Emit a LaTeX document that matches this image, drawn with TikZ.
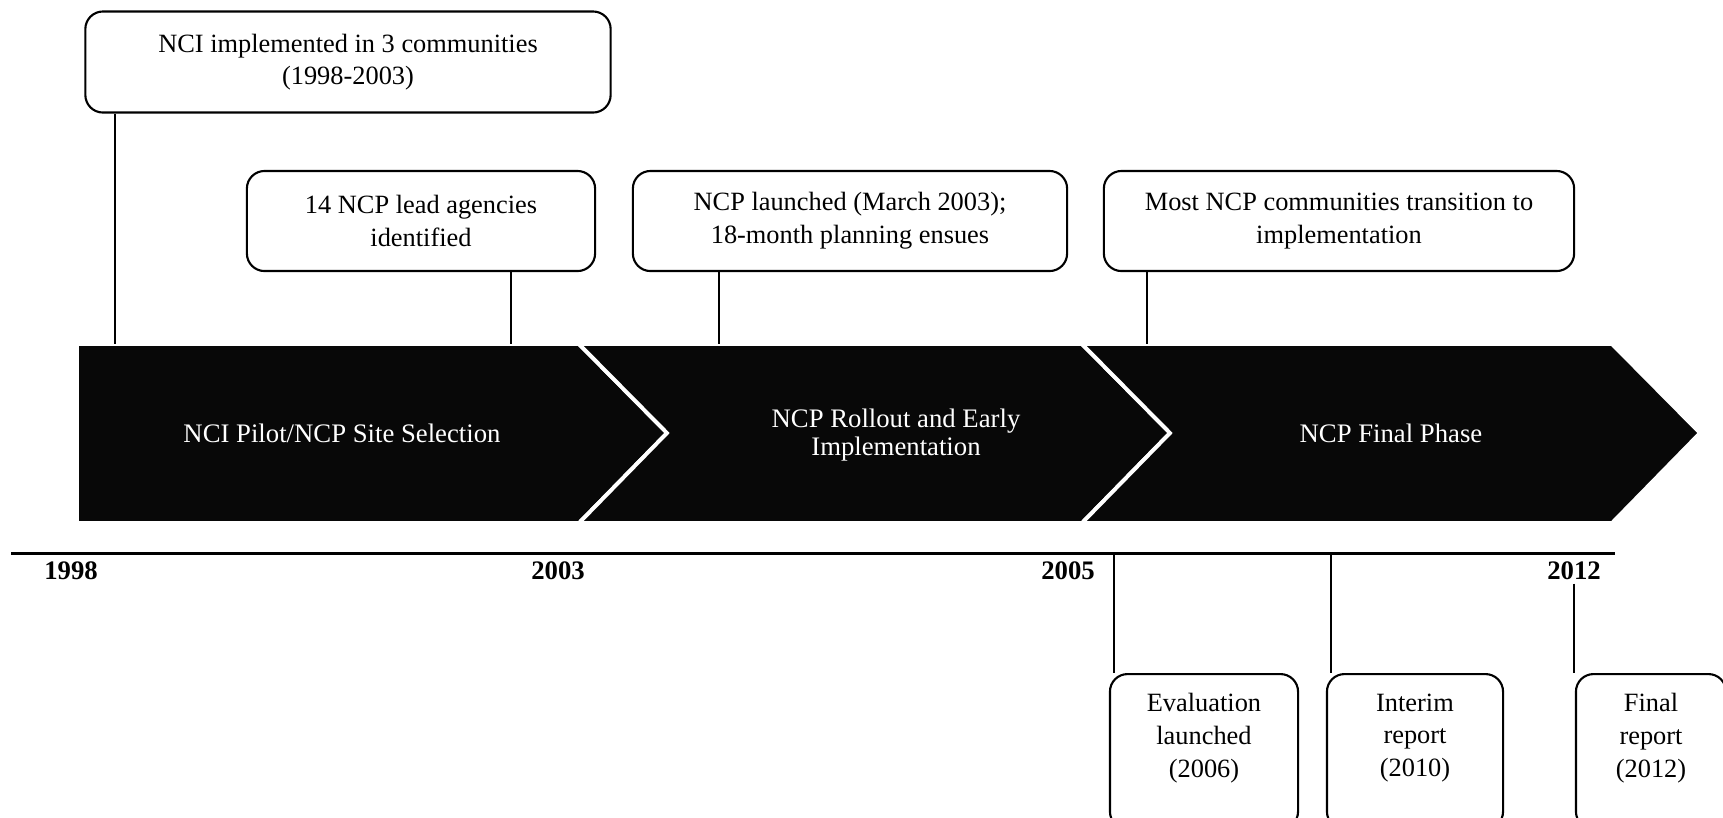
\documentclass[tikz,border=0pt]{standalone}
\usepackage{fontspec}
\setmainfont{Liberation Serif}
\usepackage{tikz}
\usetikzlibrary{positioning,calc}

\begin{document}
\begin{tikzpicture}[
    x=0.01cm, y=-0.01cm,
    event/.style={rectangle, draw=black, line width=0.6pt, rounded corners=5pt, align=center, inner sep=0pt, font=\fontsize{7.5}{9.3}\selectfont},
    phase/.style={fill=black!97, draw=white, line width=1.1pt},
    phasetext/.style={text=white, align=center, font=\fontsize{7.6}{7.8}\selectfont},
    year/.style={font=\bfseries\fontsize{7.6}{9}\selectfont},
    conn/.style={draw=black, line width=0.45pt},
    axis/.style={draw=black, line width=0.85pt}
]
    \useasboundingbox (0,0) rectangle (1723,817);

    % Phases
    \path[phase] (77,344) -- (579,344) -- (667,433) -- (579,523) -- (77,523) -- cycle;
    \path[phase] (579,344) -- (1082,344) -- (1170,433) -- (1082,523) -- (579,523) -- (667,433) -- cycle;
    \path[phase] (1082,344) -- (1612,344) -- (1700,433) -- (1612,523) -- (1082,523) -- (1170,433) -- cycle;
    \node[phasetext] (pilot) at (342,433) {NCI Pilot/NCP Site Selection};
    \node[phasetext] (rollout) at (896,435) {NCP Rollout and Early\\Implementation};
    \node[phasetext] (final phase) at (1391,433) {NCP Final Phase};

    % Events above
    \node[event, minimum width=5.25cm, minimum height=1.01cm] (nci) at (348,62) {NCI implemented in 3 communities\\(1998-2003)};
    \node[event, minimum width=3.48cm, minimum height=1.0cm] (agencies) at (421,221) {14 NCP lead agencies\\identified};
    \node[event, minimum width=4.34cm, minimum height=1.0cm] (launch) at (850,221) {NCP launched (March 2003);\\18-month planning ensues};
    \node[event, minimum width=4.70cm, minimum height=1.0cm] (transition) at (1339,221) {Most NCP communities transition to\\implementation};

    \coordinate (b1) at (115,344);
    \coordinate (b2) at (511,344);
    \coordinate (b3) at (719,344);
    \coordinate (b4) at (1147,344);
    \draw[conn] (b1 |- nci.south) -- (b1);
    \draw[conn] (b2 |- agencies.south) -- (b2);
    \draw[conn] (b3 |- launch.south) -- (b3);
    \draw[conn] (b4 |- transition.south) -- (b4);

    % Time axis
    \coordinate (axl) at (11,553);
    \coordinate (axr) at (1615,553);
    \draw[axis] (axl) -- (axr);
    \node[year] (y1998) at (71,571) {1998};
    \node[year] (y2003) at (558,571) {2003};
    \node[year] (y2005) at (1068,571) {2005};
    \node[year] (y2012) at (1574,571) {2012};

    % Events below
    \node[event, minimum width=1.88cm, minimum height=1.55cm, anchor=north] (evaluation) at (1204,673) {Evaluation\\launched\\(2006)\\\mbox{}};
    \node[event, minimum width=1.76cm, minimum height=1.55cm, anchor=north] (interim) at (1415,673) {Interim\\report\\(2010)\\\mbox{}};
    \node[event, minimum width=1.50cm, minimum height=1.55cm, anchor=north] (final) at (1651,673) {Final\\report\\(2012)\\\mbox{}};

    \coordinate (t1) at (1114,553);
    \coordinate (t2) at (1331,553);
    \draw[conn] (t1) -- (t1 |- evaluation.north);
    \draw[conn] (t2) -- (t2 |- interim.north);
    \draw[conn] ([yshift=2.5pt]y2012.south) -- (y2012.south |- final.north);
\end{tikzpicture}
\end{document}
